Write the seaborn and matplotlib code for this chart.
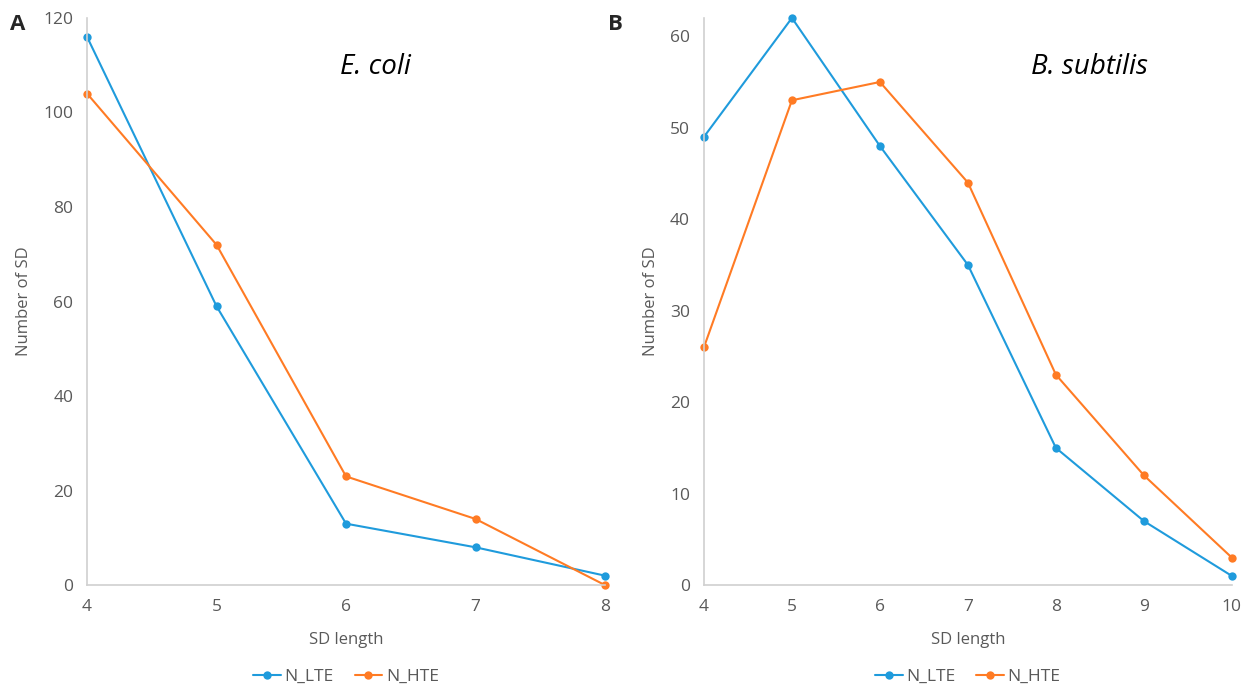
import pandas as pd
import seaborn as sns
import matplotlib.pyplot as plt

# Data
ecoli_length = [4, 5, 6, 7, 8]
ecoli_lte = [116, 59, 13, 8, 2]
ecoli_hte = [104, 72, 23, 14, 0]

bsub_length = [4, 5, 6, 7, 8, 9, 10]
bsub_lte = [49, 62, 48, 35, 15, 7, 1]
bsub_hte = [26, 53, 55, 44, 23, 12, 3]

series_names = ["N_LTE", "N_HTE"]
colors = {"N_LTE": "#1f9bdc", "N_HTE": "#ff7b24"}

sns.set_style("white")
plt.rcParams['font.family'] = ['Open Sans', 'DejaVu Sans']

def to_long(length, lte, hte):
    df = pd.DataFrame({"SD length": length, "N_LTE": lte, "N_HTE": hte})
    return df.melt(id_vars="SD length", var_name="series", value_name="Number of SD")

fig = plt.figure(figsize=(12.49, 6.9), dpi=100)
ax_a = fig.add_axes([0.0697, 0.152, 0.4147, 0.822])
ax_b = fig.add_axes([0.5636, 0.152, 0.4227, 0.822])

panels = [
    (ax_a, to_long(ecoli_length, ecoli_lte, ecoli_hte), ecoli_length, (0, 120), range(0, 121, 20), "E. coli", 0.556),
    (ax_b, to_long(bsub_length, bsub_lte, bsub_hte), bsub_length, (0, 62), range(0, 61, 10), "B. subtilis", 0.73),
]

for ax, df, xs, ylim, yt, species, sx in panels:
    sns.lineplot(data=df, x="SD length", y="Number of SD", hue="series",
                 hue_order=series_names, palette=colors, marker="o",
                 markersize=6, markeredgewidth=0, linewidth=1.5, ax=ax)
    for line in ax.lines:
        line.set_clip_on(False)
    ax.set_xlim(xs[0], xs[-1])
    ax.set_ylim(*ylim)
    ax.set_xticks(xs)
    ax.set_yticks(list(yt))
    for s in ["top", "right"]:
        ax.spines[s].set_visible(False)
    for s in ["left", "bottom"]:
        ax.spines[s].set_color("#d0d0d0")
        ax.spines[s].set_linewidth(1.2)
    ax.tick_params(length=0, labelsize=12.5, colors="#595959", pad=10)
    ax.set_xlabel("SD length", fontsize=12, color="#595959", labelpad=12)
    ax.set_ylabel("Number of SD", fontsize=12, color="#595959", labelpad=8)
    ax.text(sx, 0.913, species, transform=ax.transAxes, fontsize=20,
            style="italic", ha="center", va="center", color="black")
    ax.legend(handles=ax.get_legend().legend_handles, labels=series_names,
              loc="center", bbox_to_anchor=(0.5, -0.162), ncol=2,
              frameon=False, fontsize=12.5, handlelength=1.6, handletextpad=0.2,
              columnspacing=1.2, labelcolor="#595959")

fig.text(0.008, 0.965, "A", fontsize=16, fontweight="bold", va="center")
fig.text(0.487, 0.965, "B", fontsize=16, fontweight="bold", va="center")

fig.savefig("out.png", dpi=100)
